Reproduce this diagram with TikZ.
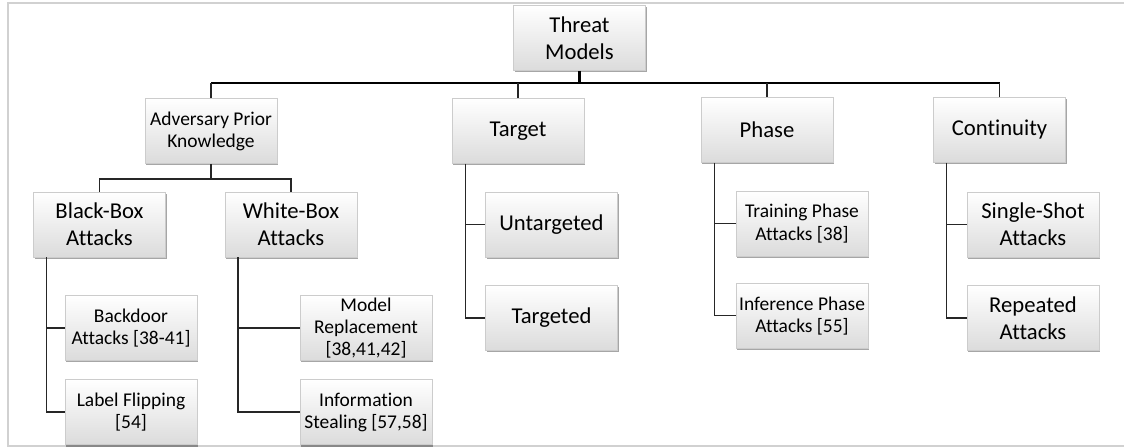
\documentclass[tikz,border=0pt]{standalone}
\usepackage{fontspec}
\setmainfont{Carlito}[Ligatures=NoCommon]
\usetikzlibrary{shadows, calc, positioning}
\tikzstyle{major} = [rectangle, minimum width=99pt, minimum height=48.75pt, inner sep=1pt,
text centered, align=center, draw=black!20, line width=0.4pt, top color=white, bottom color=black!14,
drop shadow={shadow xshift=1pt, shadow yshift=-1.4pt, fill=black, opacity=0.35},
font=\fontsize{17}{20}\selectfont]
\tikzstyle{minor} = [major, font=\fontsize{14.6}{16.6}\selectfont]
\tikzstyle{busline} = [line width=2.2pt, black]
\tikzstyle{stem} = [line width=1.6pt, black]
\tikzstyle{branch} = [line width=1.1pt, black!85]

\begin{document}
\begin{tikzpicture}[x=0.75pt, y=-0.75pt]
  \useasboundingbox (0,0) rectangle (1124,447);
  % frame
  \draw [black!18, line width=0.8pt] (1124,3) -- (8,3) -- (8,446) -- (1124,446);

  \node (threat) [major] at (579.5,38) {Threat\\Models};

  \node (adv) [minor] at (211,131) {Adversary Prior\\Knowledge};
  \node (target) [major] at (518,131) {Target};
  \node (phase) [major] at (767,130) {Phase};
  \node (cont) [major] at (999.5,130) {Continuity};

  \node (black) [major] at (99.5,224.5) {Black-Box\\Attacks};
  \node (white) [major] at (291,224.5) {White-Box\\Attacks};

  \node (backdoor) [minor] at (131,328) {Backdoor\\Attacks [38-41]};
  \node (flip) [minor, below=14pt of backdoor] {Label Flipping\\{[54]}};
  \node (replace) [minor] at (366,328) {Model\\Replacement\\{[38,41,42]}};
  \node (steal) [minor, below=14pt of replace] {Information\\Stealing [57,58]};

  \node (untarg) [major] at (551.5,224.5) {Untargeted};
  \node (targ) [major, below=21pt of untarg] {Targeted};

  \node (train) [minor] at (802,223.5) {Training Phase\\Attacks [38]};
  \node (infer) [minor, below=20pt of train] {Inference Phase\\Attacks [55]};

  \node (single) [major] at (1033,224.5) {Single-Shot\\Attacks};
  \node (rep) [major, below=21pt of single] {Repeated\\Attacks};

  \coordinate (bus) at (0,83);
  \coordinate (advbus) at (0,179);

  \draw [stem] (threat.south) -- (threat.south |- bus);
  \draw [busline] (adv.north |- bus) -- (cont.north |- bus);
  \draw [branch] (adv.north) -- (adv.north |- bus);
  \draw [branch] (target.north) -- (target.north |- bus);
  \draw [branch] (phase.north) -- (phase.north |- bus);
  \draw [branch] (cont.north) -- (cont.north |- bus);

  \draw [branch] (adv.south) -- (adv.south |- advbus);
  \draw [branch] (black.north) -- (black.north |- advbus) -- (white.north |- advbus) -- (white.north);

  \draw [branch] ([xshift=10pt]black.south west) |- (backdoor.west);
  \draw [branch] ([xshift=10pt]black.south west) |- (flip.west);
  \draw [branch] ([xshift=10pt]white.south west) |- (replace.west);
  \draw [branch] ([xshift=10pt]white.south west) |- (steal.west);
  \draw [branch] ([xshift=10.5pt]target.south west) |- (untarg.west);
  \draw [branch] ([xshift=10.5pt]target.south west) |- (targ.west);
  \draw [branch] ([xshift=10.5pt]phase.south west) |- (train.west);
  \draw [branch] ([xshift=10.5pt]phase.south west) |- (infer.west);
  \draw [branch] ([xshift=10pt]cont.south west) |- (single.west);
  \draw [branch] ([xshift=10pt]cont.south west) |- (rep.west);
\end{tikzpicture}
\end{document}
